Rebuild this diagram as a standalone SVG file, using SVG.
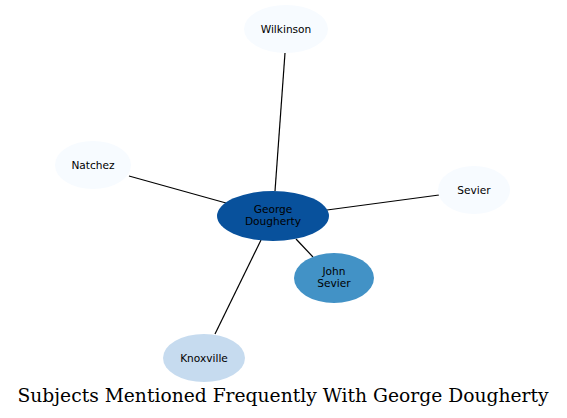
<svg xmlns="http://www.w3.org/2000/svg" width="567" height="418" viewBox="0 0 567 418">
<style>
.n text{font-family:"DejaVu Sans",sans-serif;font-size:10.6px;fill:#000;text-anchor:middle}
.e line{stroke:#000;stroke-width:1.2}
.t{font-family:"DejaVu Serif",serif;font-size:18.7px;fill:#000;text-anchor:middle}
</style>
<rect width="567" height="418" fill="#fff"/>
<g class="e" id="edges">
<line x1="275" y1="191" x2="285" y2="53"/>
<line x1="226" y1="203" x2="129" y2="176"/>
<line x1="327" y1="210" x2="439" y2="195"/>
<line x1="296" y1="239" x2="313" y2="257"/>
<line x1="261" y1="240" x2="215" y2="334"/>
</g>
<g class="n" id="wilkinson"><ellipse cx="286" cy="29" rx="42" ry="24" fill="#f7fbff"/><text x="286" y="32.5">Wilkinson</text></g>
<g class="n" id="natchez"><ellipse cx="93" cy="165" rx="38" ry="24" fill="#f7fbff"/><text x="93" y="168.5">Natchez</text></g>
<g class="n" id="sevier"><ellipse cx="474" cy="190" rx="36" ry="24" fill="#f7fbff"/><text x="474" y="193.5">Sevier</text></g>
<g class="n" id="george"><ellipse cx="273" cy="216" rx="56" ry="25" fill="#08519c"/><text x="273" y="213">George</text><text x="273" y="225">Dougherty</text></g>
<g class="n" id="john"><ellipse cx="334" cy="278" rx="40" ry="25" fill="#4292c6"/><text x="334" y="275">John</text><text x="334" y="287">Sevier</text></g>
<g class="n" id="knoxville"><ellipse cx="204" cy="358" rx="41" ry="24" fill="#c6dbef"/><text x="204" y="361.5">Knoxville</text></g>
<text class="t" x="283" y="402">Subjects Mentioned Frequently With George Dougherty</text>
</svg>
